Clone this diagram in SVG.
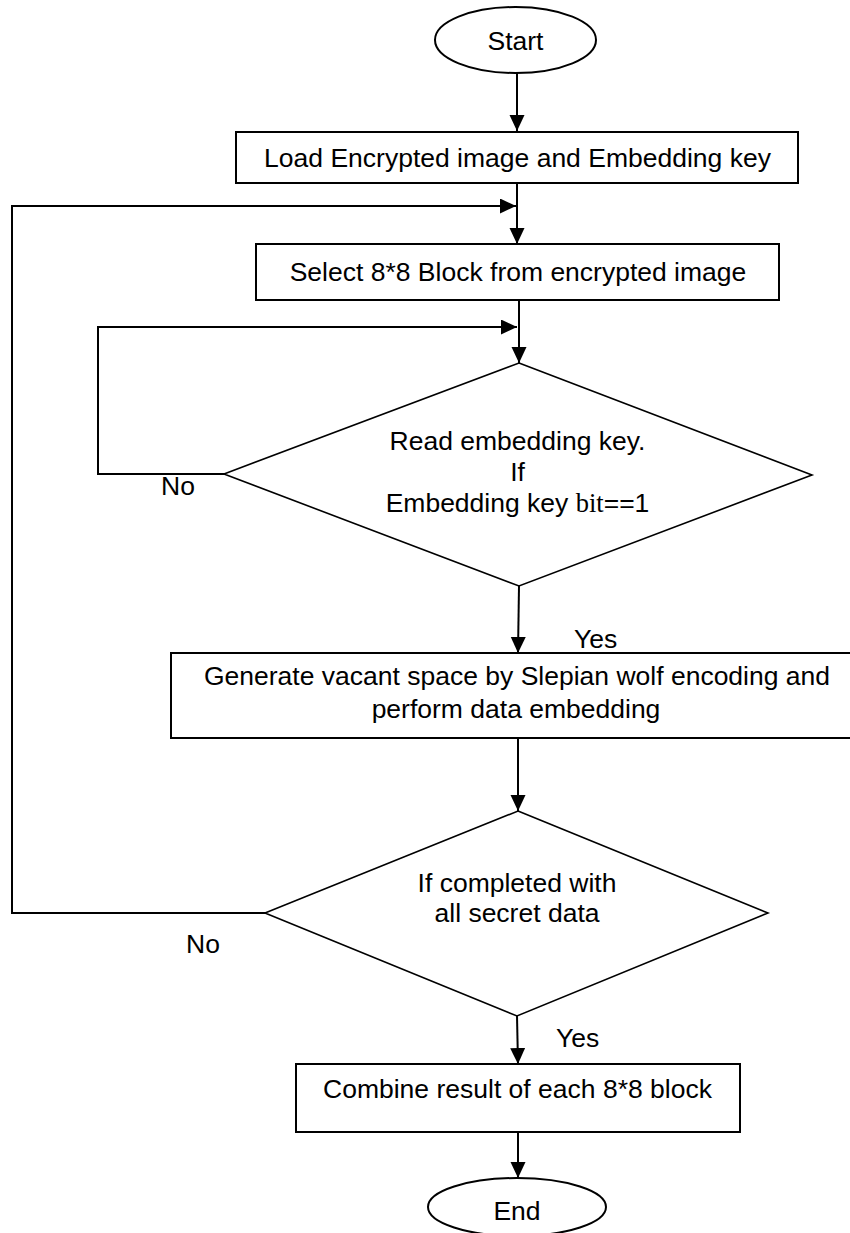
<svg xmlns="http://www.w3.org/2000/svg" width="850" height="1233" viewBox="0 0 850 1233">
<defs>
<style>
.shape{fill:#fff;stroke:#000;stroke-width:2}
.dia{fill:#fff;stroke:#000;stroke-width:1.6}
.conn{fill:none;stroke:#000;stroke-width:2}
text{font-family:"Liberation Sans",Arial,sans-serif;font-size:26.5px;fill:#000}
.c{text-anchor:middle}
</style>
<marker id="arr" markerUnits="userSpaceOnUse" markerWidth="16" markerHeight="16" refX="16" refY="7.5" orient="auto">
<path d="M0,0 L16,7.5 L0,15 z" fill="#000"/>
</marker>
</defs>
<rect width="850" height="1233" fill="#fff"/>
<g id="connectors">
<line class="conn" x1="517" y1="73" x2="517" y2="131" marker-end="url(#arr)"/>
<line class="conn" x1="517" y1="183" x2="517" y2="244" marker-end="url(#arr)"/>
<line class="conn" x1="519" y1="300" x2="519" y2="363" marker-end="url(#arr)"/>
<line class="conn" x1="519" y1="586" x2="518" y2="653" marker-end="url(#arr)"/>
<line class="conn" x1="518" y1="738" x2="518" y2="811" marker-end="url(#arr)"/>
<line class="conn" x1="517" y1="1016" x2="518" y2="1064" marker-end="url(#arr)"/>
<line class="conn" x1="518" y1="1132" x2="518" y2="1178" marker-end="url(#arr)"/>
<polyline class="conn" points="224,474 98,474 98,327 517,327" marker-end="url(#arr)"/>
<polyline class="conn" points="265,913 12,913 12,206 516,206" marker-end="url(#arr)"/>
</g>
<g id="start">
<ellipse class="shape" cx="515.5" cy="40" rx="80.5" ry="33"/>
<text class="c" x="515.5" y="50">Start</text>
</g>
<g id="load">
<rect class="shape" x="236" y="132" width="562" height="51"/>
<text class="c" x="517.5" y="167">Load Encrypted image and Embedding key</text>
</g>
<g id="select">
<rect class="shape" x="256" y="244" width="523" height="56"/>
<text class="c" x="518" y="281">Select 8*8 Block from encrypted image</text>
</g>
<g id="readkey">
<polygon class="dia" points="519,363 812,475 519,586 224,474"/>
<text class="c" x="517.5" y="450">Read embedding key.</text>
<text class="c" x="517.5" y="481">If</text>
<text class="c" x="517.5" y="512">Embedding key <tspan font-family="Liberation Serif, Times New Roman, serif">bit</tspan>==1</text>
</g>
<g id="label-no1"><text x="161" y="495">No</text></g>
<g id="label-yes1"><text x="574" y="648">Yes</text></g>
<g id="generate">
<rect class="shape" x="171" y="653" width="681" height="85"/>
<text class="c" x="517" y="685">Generate vacant space by Slepian wolf encoding and</text>
<text class="c" x="516" y="718">perform data embedding</text>
</g>
<g id="completed">
<polygon class="dia" points="518,811 768,913 517,1016 265,913"/>
<text class="c" x="517" y="892">If completed with</text>
<text class="c" x="517" y="922">all secret data</text>
</g>
<g id="label-no2"><text x="186" y="953">No</text></g>
<g id="label-yes2"><text x="556" y="1047">Yes</text></g>
<g id="combine">
<rect class="shape" x="296" y="1064" width="444" height="68"/>
<text class="c" x="517.5" y="1098">Combine result of each 8*8 block</text>
</g>
<g id="end">
<ellipse class="shape" cx="517" cy="1207" rx="89" ry="29"/>
<text class="c" x="517" y="1220">End</text>
</g>
</svg>
